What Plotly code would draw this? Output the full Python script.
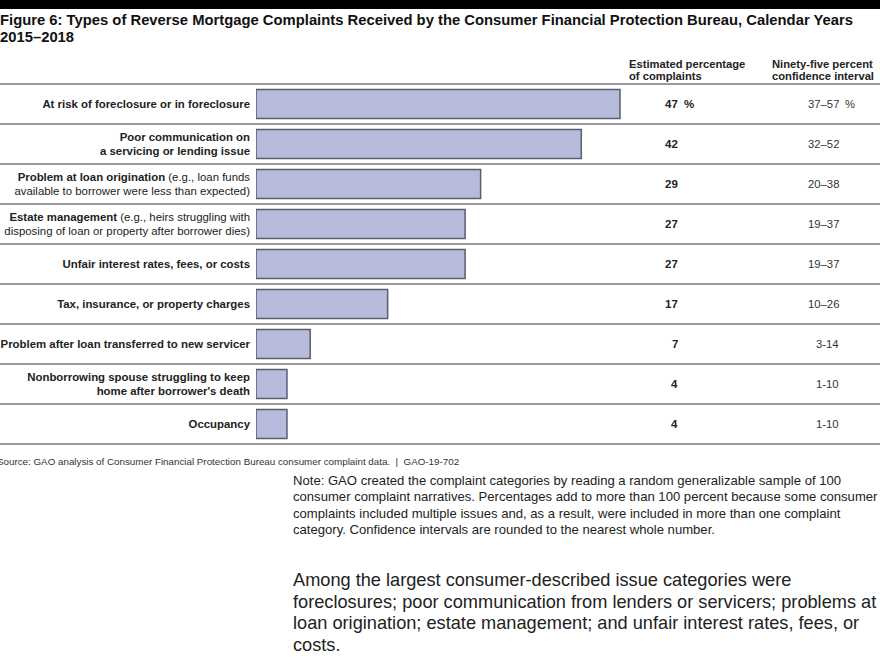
import plotly.graph_objects as go

categories = [
    "At risk of foreclosure or in foreclosure",
    "Poor communication on a servicing or lending issue",
    "Problem at loan origination",
    "Estate management",
    "Unfair interest rates, fees, or costs",
    "Tax, insurance, or property charges",
    "Problem after loan transferred to new servicer",
    "Nonborrowing spouse struggling to keep home after borrower's death",
    "Occupancy",
]
tick_labels = [
    "<b>At risk of foreclosure or in foreclosure</b>",
    "<b>Poor communication on<br>a servicing or lending issue</b>",
    "<b>Problem at loan origination</b> (e.g., loan funds<br>available to borrower were less than expected)",
    "<b>Estate management</b> (e.g., heirs struggling with<br>disposing of loan or property after borrower dies)",
    "<b>Unfair interest rates, fees, or costs</b>",
    "<b>Tax, insurance, or property charges</b>",
    "<b>Problem after loan transferred to new servicer</b>",
    "<b>Nonborrowing spouse struggling to keep<br>home after borrower's death</b>",
    "<b>Occupancy</b>",
]
percentages = [47, 42, 29, 27, 27, 17, 7, 4, 4]
ci_labels = ["37–57", "32–52", "20–38", "19–37", "19–37", "10–26", "3-14", "1-10", "1-10"]

title_lines = [
    "Figure 6: Types of Reverse Mortgage Complaints Received by the Consumer Financial Protection Bureau, Calendar Years",
    "2015–2018",
]
header_pct = ["Estimated percentage", "of complaints"]
header_ci = ["Ninety-five percent", "confidence interval"]
source_text = "Source: GAO analysis of Consumer Financial Protection Bureau consumer complaint data.  |  GAO-19-702"
note_lines = [
    "Note: GAO created the complaint categories by reading a random generalizable sample of 100",
    "consumer complaint narratives. Percentages add to more than 100 percent because some consumer",
    "complaints included multiple issues and, as a result, were included in more than one complaint",
    "category. Confidence intervals are rounded to the nearest whole number.",
]
body_lines = [
    "Among the largest consumer-described issue categories were",
    "foreclosures; poor communication from lenders or servicers; problems at",
    "loan origination; estate management; and unfair interest rates, fees, or",
    "costs.",
]

FONT = "Liberation Sans, Arial, sans-serif"
W, H = 880, 660
L, R, T, B = 256, 880, 84, 444
PW, PH = R - L, B - T


def px(x):
    return (x - L) / PW


def py(y):
    return (B - y) / PH


def text_at(text, x, y, size, color="#222", anchor="left", yref="paper"):
    return dict(text=text, x=px(x), y=(py(y) if yref == "paper" else y), xref="paper", yref=yref,
                xanchor=anchor, yanchor="middle", align=anchor, showarrow=False,
                font=dict(family=FONT, size=size, color=color))


fig = go.Figure()
fig.add_trace(go.Bar(
    x=percentages,
    y=categories,
    orientation="h",
    width=0.72,
    marker=dict(color="#b6bbdc", line=dict(color="#5c5c70", width=1.5)),
    hoverinfo="x+y",
))

annotations = []
# title
for i, t in enumerate(title_lines):
    annotations.append(text_at("<b>%s</b>" % t, -2, 20 + 17 * i, 14.8, "#111"))
# column headers
for i, t in enumerate(header_pct):
    annotations.append(text_at("<b>%s</b>" % t, 627, 64 + 12 * i, 11.2))
for i, t in enumerate(header_ci):
    annotations.append(text_at("<b>%s</b>" % t, 770, 64 + 12 * i, 11.2))
# value columns
for i, (cat, v, ci) in enumerate(zip(categories, percentages, ci_labels)):
    annotations.append(text_at("<b>%d</b>" % v, 680, cat, 11.5, "#222", "right", "y"))
    annotations.append(text_at(ci, 841, cat, 11.3, "#333", "right", "y"))
    if i == 0:
        annotations.append(text_at("<b>%</b>", 682, cat, 11.5, "#222", "left", "y"))
        annotations.append(text_at("%", 843, cat, 11.3, "#333", "left", "y"))
# source
annotations.append(text_at(source_text, -5, 461, 9.8, "#333"))
# note
for i, t in enumerate(note_lines):
    annotations.append(text_at(t, 291, 480 + 16.6 * i, 13.1, "#222"))
# body
for i, t in enumerate(body_lines):
    annotations.append(text_at(t, 291, 580 + 21.7 * i, 18.2, "#222"))

shapes = []
# black band at top
shapes.append(dict(type="rect", xref="paper", yref="paper", x0=px(0), x1=px(W), y0=py(0), y1=py(9),
                   fillcolor="black", line=dict(width=0), layer="above"))
# row separator lines
n = len(categories)
for k in range(n + 1):
    yy = k / n
    shapes.append(dict(type="line", xref="paper", yref="paper", x0=px(0), x1=px(W), y0=yy, y1=yy,
                       line=dict(color="#9a9a9a", width=2), layer="below"))

fig.update_layout(
    width=W, height=H,
    margin=dict(l=L, r=W - R, t=T, b=H - B, pad=0),
    paper_bgcolor="white", plot_bgcolor="white",
    showlegend=False,
    xaxis=dict(range=[0, PW / ((620 - 256) / 47)], visible=False, fixedrange=True),
    yaxis=dict(autorange="reversed", tickvals=categories, ticktext=tick_labels,
               showgrid=False, zeroline=False, showline=False, ticks="",
               ticklabelstandoff=5, tickfont=dict(family=FONT, size=11.4, color="#222"),
               fixedrange=True),
    annotations=annotations,
    shapes=shapes,
)

fig.write_html("out.html", config={"displayModeBar": False},
               post_script="document.body.style.margin='0px';")
